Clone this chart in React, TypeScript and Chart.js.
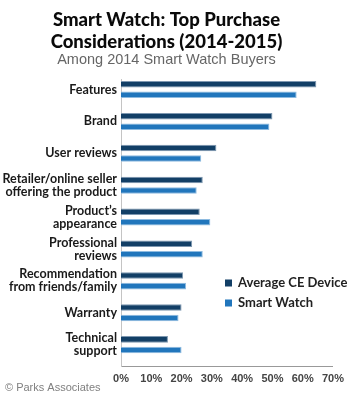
import React, { useEffect, useRef } from "react";
import { Chart, registerables } from "chart.js";

Chart.register(...registerables);

const categories: string[][] = [
  ["Features"],
  ["Brand"],
  ["User reviews"],
  ["Retailer/online seller", "offering the product"],
  ["Product\u2019s", "appearance"],
  ["Professional", "reviews"],
  ["Recommendation", "from friends/family"],
  ["Warranty"],
  ["Technical", "support"],
];
const averageCE: number[] = [64.5, 50, 31.5, 27, 26, 23.5, 20.5, 20, 15.5];
const smartWatch: number[] = [58, 49, 26.5, 25, 29.5, 27, 21.5, 19, 20];
const xTicks: number[] = [0, 10, 20, 30, 40, 50, 60, 70];
const seriesNames: string[] = ["Average CE Device", "Smart Watch"];
const titleLines: string[] = ["Smart Watch: Top Purchase", "Considerations (2014-2015)"];
const subtitleText = "Among 2014 Smart Watch Buyers";
const footerText = "\u00A9 Parks Associates";

const DARK = "#123f66";
const LIGHT = "#2176bc";
const LATO = "Lato, 'Liberation Sans', sans-serif";
const SANS = "'Liberation Sans', Arial, sans-serif";

const legendFooter = {
  id: "legendFooter",
  afterDraw(chart: any) {
    const ctx = chart.ctx;
    ctx.save();
    const items = chart.data.datasets;
    const rows = [283, 303];
    items.forEach((ds: any, i: number) => {
      ctx.fillStyle = ds.backgroundColor;
      ctx.fillRect(225, rows[i] - 3.5, 7, 7);
      ctx.fillStyle = "#222";
      ctx.font = `bold 13px ${LATO}`;
      ctx.textBaseline = "middle";
      ctx.textAlign = "left";
      ctx.fillText(ds.label, 238, rows[i]);
    });
    ctx.fillStyle = "#808080";
    ctx.font = `11px ${SANS}`;
    ctx.textBaseline = "middle";
    ctx.fillText(footerText, 5, 388);
    ctx.restore();
  },
};

export default function App() {
  const ref = useRef<HTMLCanvasElement | null>(null);
  useEffect(() => {
    if (!ref.current) return;
    const chart = new Chart(ref.current, {
      type: "bar",
      data: {
        datasets: [
          {
            label: seriesNames[0],
            data: averageCE.map((v, i) => ({ x: v, y: i })),
            backgroundColor: DARK,
            borderColor: "#7d97b0",
            borderWidth: 1,
          },
          {
            label: seriesNames[1],
            data: smartWatch.map((v, i) => ({ x: v, y: i })),
            backgroundColor: LIGHT,
            borderColor: "#8ebbe0",
            borderWidth: 1,
          },
        ],
      },
      options: {
        indexAxis: "y",
        animation: false,
        responsive: false,
        devicePixelRatio: 1,
        categoryPercentage: 0.66,
        barPercentage: 0.62,
        layout: { padding: { left: 0, right: 17, top: 0, bottom: 0 } },
        plugins: {
          legend: { display: false },
          tooltip: { enabled: false },
          title: {
            display: true,
            text: titleLines,
            color: "#0a0a0a",
            font: { family: LATO, size: 18.5, weight: "900", lineHeight: 1.18 },
            padding: { top: 9, bottom: 0 },
          },
          subtitle: {
            display: true,
            text: subtitleText,
            color: "#666",
            font: { family: SANS, size: 14.5, lineHeight: 1.0 },
            padding: { top: 0, bottom: 12.8 },
          },
        },
        scales: {
          x: {
            type: "linear",
            min: 0,
            max: 70,
            afterBuildTicks: (s: any) => {
              s.ticks = xTicks.map((v) => ({ value: v }));
            },
            afterFit: (s: any) => {
              s.height = 34;
            },
            grid: { display: false, drawTicks: false },
            border: { display: true, color: "#999", dash: [1, 2], width: 1 },
            ticks: {
              padding: 6,
              color: "#444",
              font: { family: SANS, size: 11, weight: "bold" },
              callback: (v: any) => `${v}%`,
              maxRotation: 0,
            },
          },
          y: {
            type: "linear",
            reverse: true,
            offset: false,
            bounds: "data",
            grace: 0,
            min: -0.3,
            max: 8.67,
            afterBuildTicks: (s: any) => {
              s.ticks = categories.map((_, i) => ({ value: i }));
            },
            afterFit: (s: any) => {
              s.width = 121;
              s.paddingTop = 0;
              s.paddingBottom = 0;
            },
            grid: { display: false, drawTicks: false, offset: false },
            border: { display: true, color: "#c4c4c4", width: 1 },
            ticks: {
              padding: 4,
              includeBounds: false,
              color: "#1a1a1a",
              font: { family: LATO, size: 12.5, weight: "bold", lineHeight: 1.04 },
              callback: (v: any) => categories[Math.round(v)] ?? "",
            },
          },
        },
      },
      plugins: [legendFooter],
    } as any);
    return () => chart.destroy();
  }, []);
  return (
    <div style={{ position: "absolute", left: 0, top: 0, width: 350, height: 400, background: "#fff" }}>
      <canvas ref={ref} width={350} height={400} style={{ width: 350, height: 400, display: "block" }} />
    </div>
  );
}
